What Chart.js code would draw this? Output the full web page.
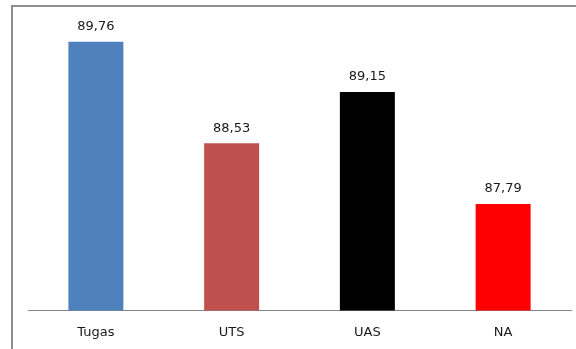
<!DOCTYPE html>
<html>
<head>
<meta charset="utf-8">
<script src="https://cdn.jsdelivr.net/npm/chart.js@4"></script>
<style>
  html, body { margin: 0; padding: 0; background: #ffffff; overflow: hidden; }
  #wrap { position: relative; width: 576px; height: 349px; overflow: hidden; background: #fff; }
  canvas { position: absolute; left: 0; top: 0; }
</style>
</head>
<body>
<div id="wrap">
  <canvas id="c" width="576" height="354"></canvas>
</div>
<script>
const categories = ["Tugas", "UTS", "UAS", "NA"];
const values = [89.76, 88.53, 89.15, 87.79];
const barColors = ["#4F81BD", "#C0504D", "#000000", "#FF0000"];
const yMin = 86.5;
const yMax = 90;

const frame = {
  id: "frame",
  beforeDraw(chart) {
    const ctx = chart.ctx;
    ctx.save();
    ctx.fillStyle = "#ffffff";
    ctx.fillRect(0, 0, chart.width, chart.height);
    ctx.strokeStyle = "#8e8e8e";
    ctx.lineWidth = 2;
    ctx.beginPath();
    ctx.moveTo(12, chart.height + 10);
    ctx.lineTo(12, 6);
    ctx.lineTo(chart.width + 10, 6);
    ctx.stroke();
    ctx.restore();
  }
};

const valueLabels = {
  id: "valueLabels",
  afterDatasetsDraw(chart) {
    const ctx = chart.ctx;
    ctx.save();
    ctx.font = "13px 'DejaVu Sans'";
    ctx.fillStyle = "#1a1a1a";
    ctx.textAlign = "center";
    ctx.textBaseline = "middle";
    chart.data.datasets.forEach((ds, di) => {
      chart.getDatasetMeta(di).data.forEach((el, i) => {
        const txt = ds.data[i].toFixed(2).replace(".", ",");
        ctx.fillText(txt, el.x, el.y - 15);
      });
    });
    ctx.restore();
  }
};

new Chart(document.getElementById("c"), {
  type: "bar",
  data: {
    labels: categories,
    datasets: [{
      data: values,
      backgroundColor: barColors,
      borderWidth: 0,
      categoryPercentage: 1.0,
      barPercentage: 0.405
    }]
  },
  options: {
    responsive: false,
    animation: false,
    devicePixelRatio: 1,
    layout: { padding: { left: 28, right: 5, top: 22, bottom: 0 } },
    plugins: { legend: { display: false }, tooltip: { enabled: false } },
    scales: {
      x: {
        grid: { display: false, drawTicks: false },
        border: { display: true, color: "#868686", width: 1 },
        ticks: {
          padding: 14,
          color: "#1a1a1a",
          font: { family: "'DejaVu Sans'", size: 13 }
        }
      },
      y: {
        display: false,
        min: yMin,
        max: yMax
      }
    }
  },
  plugins: [frame, valueLabels]
});
</script>
</body>
</html>
